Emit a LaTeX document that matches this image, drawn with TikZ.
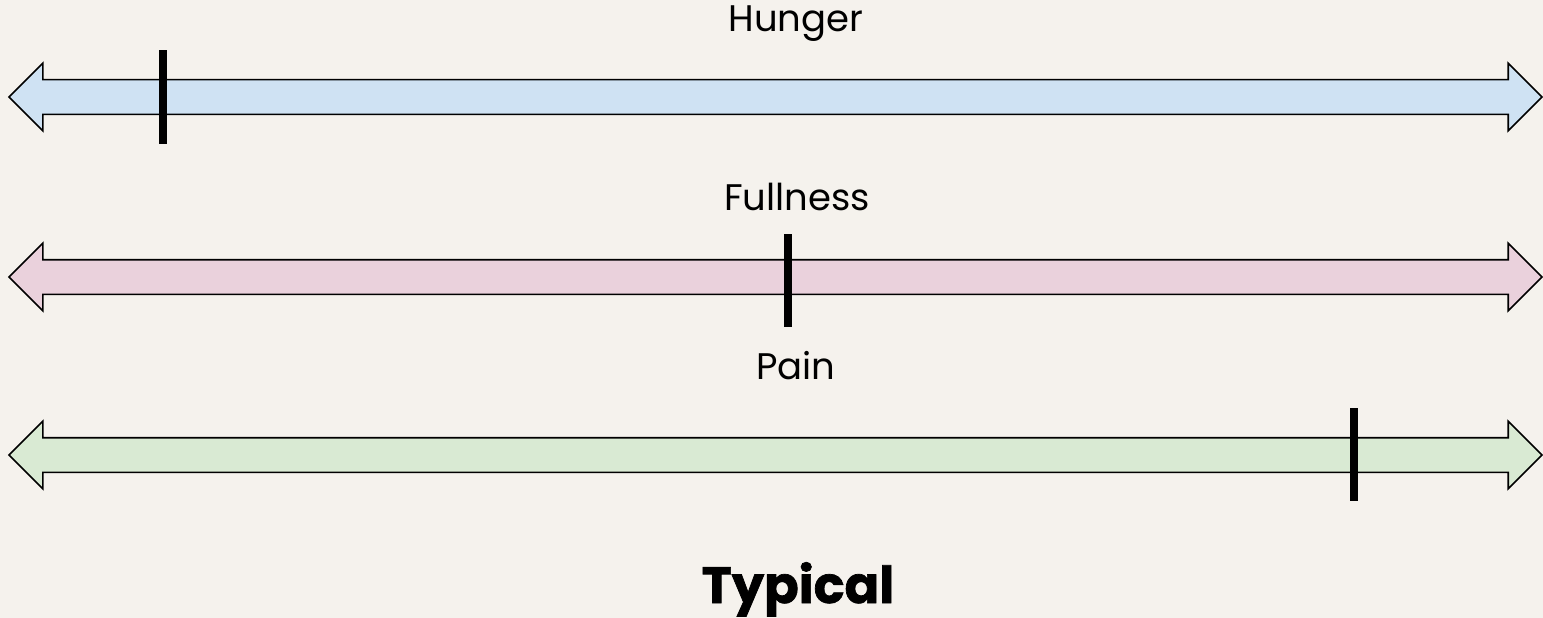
\documentclass[tikz,border=0pt]{standalone}
\usepackage{fontspec}
\setmainfont{Poppins}
\newfontfamily\titlefont{Poppins}[BoldFeatures={FakeBold=1.4}]
\usetikzlibrary{shapes.arrows}
\definecolor{paper}{HTML}{F5F2ED}
\definecolor{hungerblue}{HTML}{CFE2F3}
\definecolor{fullpink}{HTML}{EAD1DC}
\definecolor{paingreen}{HTML}{D9EAD3}
\begin{document}
\begin{tikzpicture}[x=1pt,y=-1pt]
\tikzstyle{gauge}=[double arrow,draw,line width=1.6pt,double arrow head extend=16.5pt,
  minimum width=66pt,minimum height=1533pt,inner ysep=16.5pt,inner xsep=0pt]
\tikzstyle{notch}=[rectangle,fill=black,inner sep=0pt,minimum width=8pt,minimum height=93pt]
\tikzstyle{caption}=[anchor=base,inner sep=0pt,font=\fontsize{37}{44}\selectfont]
 \fill[paper] (0,0) rectangle (1543,618);
 % the three scales
 \node[gauge,fill=hungerblue] (hunger) at (775.5,97) {};
 \node[gauge,fill=fullpink] (fullness) at (775.5,277) {};
 \node[gauge,fill=paingreen] (pain) at (775.5,455) {};
 \node[notch] (hungermark) at (163,97) {};
 \node[notch] (fullmark) at (788,280) {};
 \node[notch] (painmark) at (1354,454) {};
 % labels
 \node[caption] (hungerlabel) at (796,32) {Hunger};
 \node[caption] (fulllabel) at (797,210) {Fullness};
 \node[caption] (painlabel) at (796,379) {Pain};
 \node[anchor=base,inner sep=0pt,font=\titlefont\fontsize{51}{60}\selectfont\bfseries] (title) at (798,603) {Typical};
\end{tikzpicture}
\end{document}
